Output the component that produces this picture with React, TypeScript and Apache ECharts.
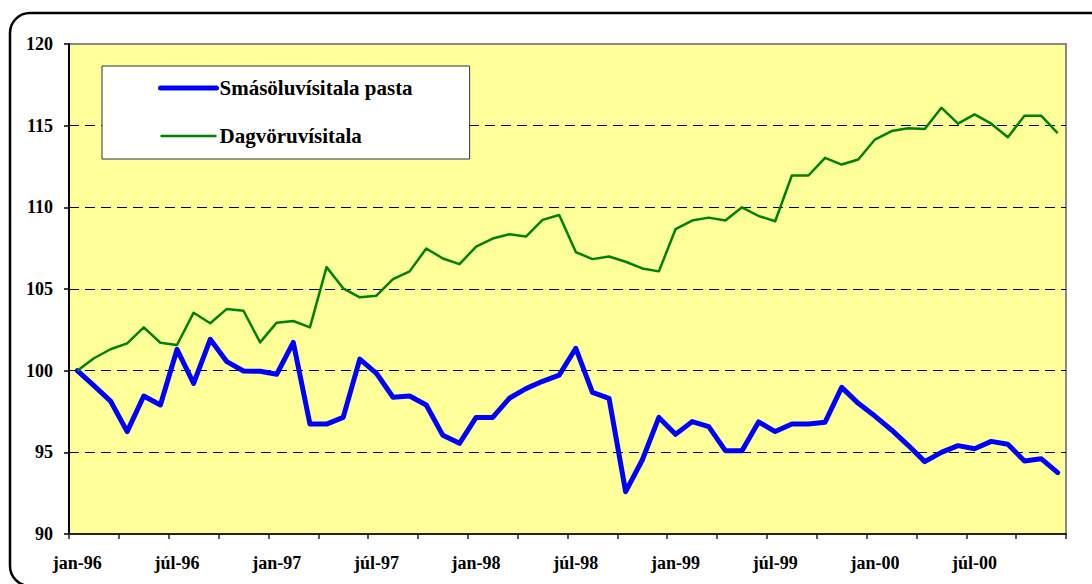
import React, { useEffect, useRef } from "react";
import * as echarts from "echarts";

const monthNames = ["jan", "feb", "mar", "apr", "maí", "jún", "júl", "ágú", "sep", "okt", "nóv", "des"];
const years = ["96", "97", "98", "99", "00"];
const categories: string[] = years.flatMap((y) => monthNames.map((m) => `${m}-${y}`));

const seriesNames = ["Smásöluvísitala pasta", "Dagvöruvísitala"];

const pastaValues = [
  100, 99.08, 98.14, 96.27, 98.45, 97.9, 101.3, 99.22, 101.92, 100.55,
  99.98, 99.96, 99.78, 101.73, 96.73, 96.73, 97.14, 100.71, 99.84, 98.37,
  98.45, 97.9, 96.04, 95.55, 97.14, 97.14, 98.31, 98.9, 99.35, 99.73,
  101.37, 98.67, 98.31, 92.59, 94.53, 97.14, 96.1, 96.88, 96.57, 95.1,
  95.1, 96.86, 96.27, 96.73, 96.73, 96.84, 98.98, 98.0, 97.22, 96.37,
  95.43, 94.43, 95.0, 95.41, 95.22, 95.67, 95.49, 94.47, 94.61, 93.76,
];

const dagvoruValues = [
  100, 100.76, 101.31, 101.67, 102.65, 101.71, 101.57, 103.55, 102.9, 103.78,
  103.67, 101.73, 102.94, 103.04, 102.65, 106.34, 105.04, 104.49, 104.59, 105.61,
  106.08, 107.48, 106.87, 106.52, 107.6, 108.09, 108.35, 108.21, 109.23, 109.53,
  107.26, 106.83, 106.99, 106.67, 106.26, 106.08, 108.66, 109.19, 109.37, 109.19,
  110.0, 109.47, 109.15, 111.95, 111.95, 113.03, 112.62, 112.93, 114.15, 114.67,
  114.84, 114.8, 116.1, 115.12, 115.69, 115.12, 114.29, 115.61, 115.61, 114.55,
];

const FONT = "Liberation Serif";

export default function App() {
  const ref = useRef<HTMLDivElement>(null);
  useEffect(() => {
    if (!ref.current) return;
    const chart = echarts.init(ref.current, undefined, { renderer: "svg" });
    chart.setOption({
      animation: false,
      backgroundColor: "#ffffff",
      graphic: [
        {
          type: "rect",
          shape: { x: 10, y: 13, width: 1110, height: 573, r: 20 },
          style: { fill: "none", stroke: "#000", lineWidth: 2.5 },
          silent: true,
          z: -1,
        },
      ],
      grid: {
        left: 69,
        top: 44,
        right: 26,
        bottom: 50,
        show: true,
        backgroundColor: "#FFFF99",
        borderColor: "#888888",
        borderWidth: 2,
      },
      legend: {
        orient: "vertical",
        left: 102,
        top: 66,
        padding: [11, 57, 12, 56],
        itemGap: 26,
        itemWidth: 56,
        itemHeight: 22,
        backgroundColor: "#ffffff",
        borderColor: "#333333",
        borderWidth: 1,
        itemStyle: { opacity: 0, borderWidth: 0 },
        textStyle: {
          fontFamily: FONT,
          fontWeight: "bold",
          fontSize: 21,
          lineHeight: 22,
          color: "#000",
          padding: [0, 0, 0, -2],
        },
        data: [
          { name: seriesNames[0], lineStyle: { width: 5, cap: "round" }, itemStyle: { opacity: 0, borderWidth: 0 } },
          { name: seriesNames[1], lineStyle: { width: 2.5 }, itemStyle: { opacity: 0, borderWidth: 0 } },
        ],
      },
      xAxis: {
        type: "category",
        data: categories,
        boundaryGap: true,
        axisLine: { lineStyle: { color: "#222", width: 2 } },
        axisTick: { show: true, interval: 2, length: 5, lineStyle: { color: "#222", width: 1.5 } },
        axisLabel: {
          interval: 5,
          margin: 20,
          fontFamily: FONT,
          fontWeight: "bold",
          fontSize: 18,
          color: "#000",
        },
        splitLine: { show: false },
      },
      yAxis: {
        type: "value",
        min: 90,
        max: 120,
        interval: 5,
        axisLine: { show: true, lineStyle: { color: "#000", width: 2 } },
        axisTick: { show: true, length: 5, lineStyle: { color: "#000", width: 1.5 } },
        axisLabel: {
          margin: 16,
          fontFamily: FONT,
          fontWeight: "bold",
          fontSize: 18,
          color: "#000",
        },
        splitLine: {
          show: true,
          showMinLine: false,
          showMaxLine: false,
          lineStyle: { color: "#000", width: 1, type: [10, 6] },
        },
      },
      series: [
        {
          name: seriesNames[0],
          type: "line",
          data: pastaValues,
          symbol: "none",
          lineStyle: { color: "#0000FF", width: 5, cap: "round", join: "round" },
          itemStyle: { color: "#0000FF" },
        },
        {
          name: seriesNames[1],
          type: "line",
          data: dagvoruValues,
          symbol: "none",
          lineStyle: { color: "#008000", width: 2.5, join: "round" },
          itemStyle: { color: "#008000" },
        },
      ],
    });
    return () => chart.dispose();
  }, []);
  return (
    <div
      ref={ref}
      style={{ position: "fixed", left: 0, top: 0, width: 1092, height: 584 }}
    />
  );
}
